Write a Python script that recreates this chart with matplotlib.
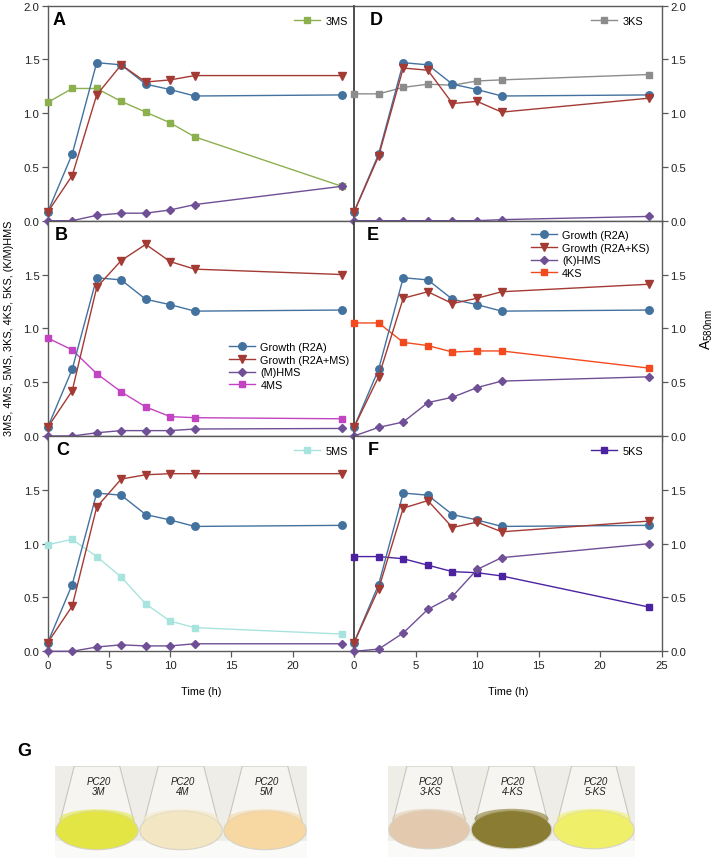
import matplotlib
matplotlib.use("Agg")
import matplotlib.pyplot as plt
from matplotlib.patches import Ellipse, Polygon, Rectangle
import numpy as np

plt.rcParams['font.family'] = ['Liberation Sans', 'DejaVu Sans']

# ---------------- data ----------------
time_h = [0, 2, 4, 6, 8, 10, 12, 24]
growth_r2a = [0.08, 0.62, 1.47, 1.45, 1.27, 1.22, 1.16, 1.17]

# Panel A (3MS)
growth_a = [0.08, 0.42, 1.17, 1.45, 1.29, 1.31, 1.35, 1.35]
ms3 = [1.10, 1.23, 1.23, 1.11, 1.01, 0.91, 0.78, 0.32]
hms_a = [0.0, 0.0, 0.05, 0.07, 0.07, 0.10, 0.15, 0.32]
# Panel B (4MS)
growth_b = [0.08, 0.42, 1.38, 1.63, 1.78, 1.62, 1.55, 1.50]
ms4 = [0.91, 0.80, 0.58, 0.41, 0.27, 0.18, 0.17, 0.16]
hms_b = [0.0, 0.0, 0.03, 0.05, 0.05, 0.05, 0.065, 0.07]
# Panel C (5MS)
growth_c = [0.08, 0.42, 1.34, 1.60, 1.64, 1.65, 1.65, 1.65]
ms5 = [0.99, 1.04, 0.88, 0.69, 0.44, 0.28, 0.22, 0.16]
hms_c = [0.0, 0.0, 0.04, 0.06, 0.05, 0.05, 0.07, 0.07]
# Panel D (3KS)
growth_d = [0.08, 0.60, 1.42, 1.40, 1.09, 1.11, 1.01, 1.14]
ks3 = [1.18, 1.18, 1.24, 1.27, 1.26, 1.30, 1.31, 1.36]
hms_d = [0.0, 0.0, 0.0, 0.0, 0.0, 0.0, 0.01, 0.04]
# Panel E (4KS)
growth_e = [0.08, 0.55, 1.28, 1.34, 1.23, 1.28, 1.34, 1.41]
ks4 = [1.05, 1.05, 0.87, 0.84, 0.78, 0.79, 0.79, 0.63]
hms_e = [0.0, 0.08, 0.13, 0.31, 0.36, 0.45, 0.51, 0.55]
# Panel F (5KS)
growth_f = [0.08, 0.58, 1.33, 1.40, 1.15, 1.20, 1.11, 1.21]
ks5 = [0.88, 0.88, 0.86, 0.80, 0.74, 0.73, 0.70, 0.41]
hms_f = [0.0, 0.02, 0.17, 0.39, 0.51, 0.76, 0.87, 1.00]

c_blue = '#43729F'
c_red = '#A43A34'
c_purple = '#6F4F95'

W, H = 715, 862
fig = plt.figure(figsize=(W / 100, H / 100), dpi=100)

def fr(x0, y0, x1, y1):
    return [x0 / W, 1 - y1 / H, (x1 - x0) / W, (y1 - y0) / H]

xl, xm, xr = 47.7, 354.0, 661.7
rows = [(6.7, 221.7), (221.7, 437.0), (437.0, 652.3)]

panels = [
    ('A', 0, 0, growth_a, ms3, '3MS', '#8DB04F', hms_a, '(M)HMS', 'Growth (R2A+MS)', False, 0.017),
    ('B', 0, 1, growth_b, ms4, '4MS', '#C244C2', hms_b, '(M)HMS', 'Growth (R2A+MS)', True, 0.024),
    ('C', 0, 2, growth_c, ms5, '5MS', '#A8E4DE', hms_c, '(M)HMS', 'Growth (R2A+MS)', False, 0.028),
    ('D', 1, 0, growth_d, ks3, '3KS', '#8C8C8C', hms_d, '(K)HMS', 'Growth (R2A+KS)', False, 0.052),
    ('E', 1, 1, growth_e, ks4, '4KS', '#F24A1E', hms_e, '(K)HMS', 'Growth (R2A+KS)', True, 0.040),
    ('F', 1, 2, growth_f, ks5, '5KS', '#4B22A0', hms_f, '(K)HMS', 'Growth (R2A+KS)', False, 0.046),
]

spine_c = '#5A5A5A'
fs = 7.5
tfs = 8.2
for (letter, col, row, gr, sub, sublab, subcol, hms, hmslab, grlab, full, lx) in panels:
    x0, x1 = (xl, xm) if col == 0 else (xm, xr)
    y0, y1 = rows[row]
    ax = fig.add_axes(fr(x0, y0, x1, y1))
    ax.set_xlim(0, 25)
    ax.set_ylim(0, 2.0)
    lw = 1.0
    l1, = ax.plot(time_h, growth_r2a, '-o', color=c_blue, lw=lw, ms=5.4, label='Growth (R2A)', clip_on=False, zorder=4)
    l2, = ax.plot(time_h, gr, '-v', color=c_red, lw=lw, ms=5.4, label=grlab, clip_on=False, zorder=4)
    l3, = ax.plot(time_h, hms, '-D', color=c_purple, lw=lw, ms=4.5, label=hmslab, clip_on=False, zorder=5)
    l4, = ax.plot(time_h, sub, '-s', color=subcol, lw=lw, ms=5.0, label=sublab, clip_on=False, zorder=3)
    if full:
        if col == 0:
            ax.legend(handles=[l1, l2, l3, l4], loc='center right', bbox_to_anchor=(1.01, 0.325),
                      frameon=False, fontsize=fs + 0.3, handlelength=2.4, labelspacing=0.25, borderpad=0.2,
                      handletextpad=0.5)
        else:
            ax.legend(handles=[l1, l2, l3, l4], loc='center right', bbox_to_anchor=(0.985, 0.845),
                      frameon=False, fontsize=fs + 0.3, handlelength=2.4, labelspacing=0.25, borderpad=0.2,
                      handletextpad=0.5)
    else:
        bx = 1.005 if col == 0 else 0.965
        ax.legend(handles=[l4], loc='center right', bbox_to_anchor=(bx, 0.93), frameon=False,
                  fontsize=fs + 0.3, handlelength=2.4, borderpad=0.2, handletextpad=0.5)
    ax.text(lx, 0.975, letter, transform=ax.transAxes, fontsize=13, fontweight='bold',
            va='top', ha='left')
    for s in ax.spines.values():
        s.set_color(spine_c)
        s.set_linewidth(1.0)
    if col == 0:
        ax.spines['right'].set_visible(False)
    else:
        ax.spines['left'].set_linewidth(1.3)
        ax.spines['left'].set_color('#404040')
        ax.yaxis.tick_right()
    ax.set_xticks([0, 5, 10, 15, 20, 25])
    yt = [0.0, 0.5, 1.0, 1.5, 2.0] if row == 0 else [0.0, 0.5, 1.0, 1.5]
    ax.set_yticks(yt)
    ax.set_yticklabels(['%.1f' % v for v in yt])
    ax.tick_params(direction='out', length=4, width=0.9, color=spine_c, labelsize=tfs,
                   pad=2, labelcolor='#222222')
    if row == 2:
        if col == 0:
            ax.set_xticklabels(['0', '5', '10', '15', '20', ''])
        else:
            ax.set_xticklabels(['0', '5', '10', '15', '20', '25'])
    else:
        ax.set_xticklabels([])
    if col == 0:
        ax.tick_params(axis='y', left=True, right=False)
    else:
        ax.tick_params(axis='y', left=False, right=True, labelleft=False, labelright=True)

fig.text((xl + xm) / 2 / W, 1 - 692 / H, 'Time (h)', ha='center', va='center', fontsize=fs + 0.3)
fig.text((xm + xr) / 2 / W, 1 - 692 / H, 'Time (h)', ha='center', va='center', fontsize=fs + 0.3)
fig.text(9 / W, 1 - 328 / H, '3MS, 4MS, 5MS, 3KS, 4KS, 5KS, (K/M)HMS', rotation=90,
         ha='center', va='center', fontsize=fs + 0.3)
fig.text(707 / W, 1 - 330 / H, r'A$_{\mathregular{580nm}}$', rotation=90,
         ha='center', va='center', fontsize=10)
fig.text(17 / W, 1 - 752 / H, 'G', fontsize=13, fontweight='bold', ha='left', va='center')

# ---------------- photo panel (illustration) ----------------
photo_liquid_left = ['#E3E545', '#F3E6C2', '#F7D7A2']
photo_labels_left = ['PC20\n3M', 'PC20\n4M', 'PC20\n5M']
photo_liquid_right = ['#E3C9AE', '#8A7C32', '#EFEF6A']
photo_labels_right = ['PC20\n3-KS', 'PC20\n4-KS', 'PC20\n5-KS']

def photo(rect, liquids, labels):
    ax = fig.add_axes(fr(*rect))
    ax.set_xlim(0, 3)
    ax.set_ylim(0, 1)
    ax.axis('off')
    ax.add_patch(Rectangle((0, 0), 3, 1, color='#EEEDE8', zorder=0))
    ax.add_patch(Rectangle((0, 0), 3, 0.18, color='#FAFAF8', zorder=0))
    for i, (lc, lab) in enumerate(zip(liquids, labels)):
        cx = i + 0.5
        glass = Polygon([[cx - 0.27, 1.0], [cx + 0.27, 1.0], [cx + 0.48, 0.25], [cx - 0.48, 0.25]],
                        closed=True, facecolor='#F6F5F1', edgecolor='#C8C6BE', lw=0.8, zorder=1)
        ax.add_patch(glass)
        ax.add_patch(Ellipse((cx, 0.3), 0.98, 0.42, facecolor=lc, edgecolor='#D6D3C6', lw=0.8, zorder=2))
        ax.add_patch(Ellipse((cx, 0.42), 0.9, 0.22, facecolor=lc, edgecolor='none', alpha=0.6, zorder=3))
        ax.text(cx + 0.02, 0.78, lab, ha='center', va='center', fontsize=7, color='#222222',
                fontstyle='italic', linespacing=1.0, zorder=4)

photo((55, 767, 307, 859), photo_liquid_left, photo_labels_left)
photo((388, 767, 635, 858), photo_liquid_right, photo_labels_right)

fig.savefig('out.png', dpi=100, facecolor='white')
